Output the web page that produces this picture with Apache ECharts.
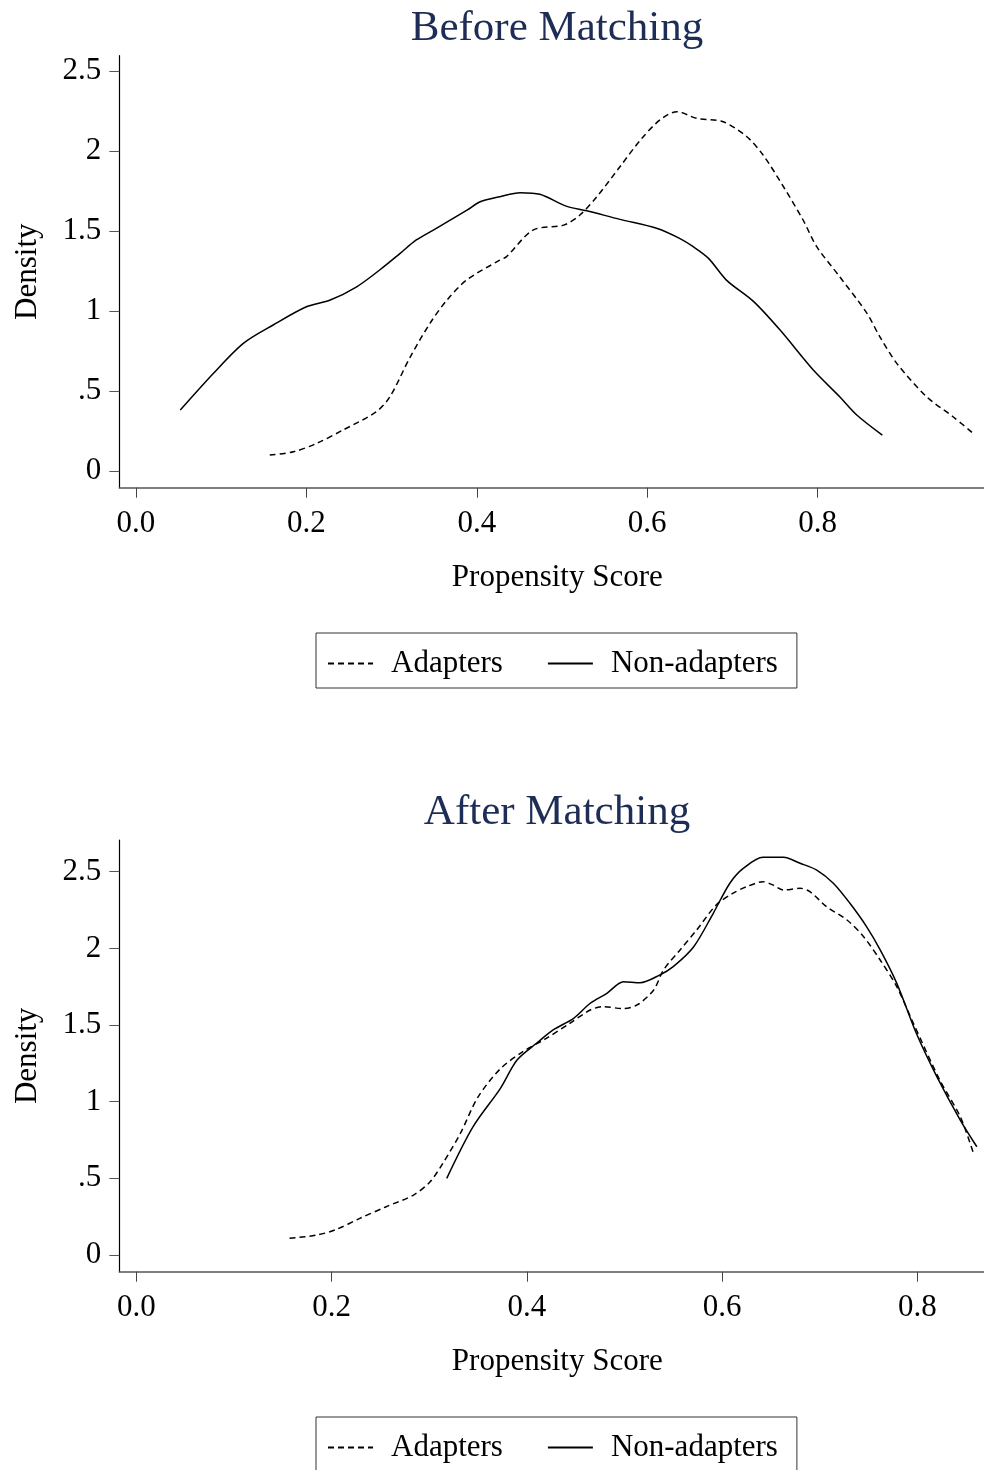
<!DOCTYPE html>
<html>
<head>
<meta charset="utf-8">
<script src="https://cdn.jsdelivr.net/npm/echarts@6/dist/echarts.min.js"></script>
<style>
html,body{margin:0;padding:0;background:#fff;}
#chart{width:984px;height:1470px;}
</style>
</head>
<body>
<div id="chart"></div>
<script>
// ---------- data ----------
const titles = ['Before Matching', 'After Matching'];
const seriesNames = ['Adapters', 'Non-adapters'];
const xTickValues = [0, 0.2, 0.4, 0.6, 0.8];
const xTickLabels = ['0.0', '0.2', '0.4', '0.6', '0.8'];
const yTickValues = [0, 0.5, 1, 1.5, 2, 2.5];
const yTickLabels = ['0', '.5', '1', '1.5', '2', '2.5'];
const xAxisName = 'Propensity Score';
const yAxisName = 'Density';

// Before matching
const beforeAdapters = [
  [0.157,0.098],[0.185,0.119],[0.212,0.171],[0.243,0.255],[0.282,0.369],[0.298,0.463],
  [0.322,0.713],[0.345,0.922],[0.365,1.068],[0.388,1.193],[0.427,1.318],[0.435,1.34],
  [0.466,1.506],[0.502,1.537],[0.521,1.60],[0.541,1.715],[0.568,1.902],[0.592,2.069],
  [0.615,2.195],[0.635,2.247],[0.658,2.205],[0.689,2.184],[0.717,2.09],[0.736,1.976],
  [0.760,1.777],[0.783,1.569],[0.799,1.402],[0.826,1.214],[0.858,0.985],[0.873,0.839],
  [0.893,0.672],[0.928,0.463],[0.959,0.338],[0.984,0.228]
];
const beforeNonAdapters = [
  [0.052,0.38],[0.091,0.61],[0.126,0.797],[0.161,0.912],[0.200,1.026],[0.228,1.068],
  [0.259,1.151],[0.286,1.256],[0.310,1.36],[0.329,1.444],[0.349,1.506],[0.389,1.632],
  [0.404,1.683],[0.427,1.715],[0.451,1.74],[0.474,1.73],[0.505,1.656],[0.529,1.627],
  [0.568,1.573],[0.611,1.517],[0.638,1.454],[0.654,1.402],[0.672,1.329],[0.693,1.193],
  [0.725,1.058],[0.756,0.88],[0.795,0.63],[0.826,0.463],[0.846,0.349],[0.876,0.223]
];
// After matching
const afterAdapters = [
  [0.157,0.109],[0.185,0.13],[0.205,0.167],[0.229,0.239],[0.256,0.315],[0.284,0.391],
  [0.301,0.478],[0.314,0.598],[0.332,0.794],[0.350,1.03],[0.373,1.215],[0.396,1.326],
  [0.420,1.413],[0.444,1.511],[0.465,1.598],[0.478,1.62],[0.499,1.607],[0.513,1.631],
  [0.530,1.729],[0.540,1.859],[0.557,1.99],[0.574,2.12],[0.594,2.283],[0.611,2.359],
  [0.625,2.402],[0.642,2.435],[0.652,2.414],[0.663,2.381],[0.680,2.392],[0.690,2.37],
  [0.707,2.272],[0.728,2.185],[0.745,2.076],[0.762,1.924],[0.779,1.75],[0.796,1.511],
  [0.823,1.141],[0.844,0.902],[0.857,0.674]
];
const afterNonAdapters = [
  [0.318,0.5],[0.345,0.837],[0.373,1.087],[0.390,1.272],[0.410,1.381],[0.427,1.468],
  [0.448,1.544],[0.465,1.642],[0.482,1.707],[0.499,1.783],[0.516,1.776],[0.536,1.826],
  [0.550,1.881],[0.571,2.011],[0.591,2.229],[0.608,2.425],[0.622,2.523],[0.642,2.594],
  [0.663,2.594],[0.680,2.555],[0.697,2.511],[0.714,2.425],[0.731,2.294],[0.748,2.142],
  [0.762,1.99],[0.779,1.772],[0.799,1.446],[0.820,1.163],[0.844,0.88],[0.861,0.706]
];

// ---------- chart ----------
const FONT = '"Liberation Serif", "Times New Roman", serif';
const chart = echarts.init(document.getElementById('chart'), null, {renderer: 'canvas'});

function xAxisCfg(gi, min, max) {
  return {
    type: 'value', gridIndex: gi, min: min, max: max,
    name: xAxisName, nameLocation: 'middle', nameGap: 75,
    nameTextStyle: {fontFamily: FONT, fontSize: 31, color: '#000'},
    axisLine: {show: true, onZero: false, lineStyle: {color: '#555', width: 1.5}},
    axisTick: {show: true, length: 10, customValues: xTickValues, lineStyle: {color: '#444', width: 1}},
    axisLabel: {
      show: true, margin: 21, customValues: xTickValues,
      fontFamily: FONT, fontSize: 31, color: '#000',
      formatter: v => { const i = xTickValues.findIndex(t => Math.abs(t - v) < 1e-6); return i >= 0 ? xTickLabels[i] : ''; }
    },
    splitLine: {show: false}
  };
}
function yAxisCfg(gi, min, max) {
  return {
    type: 'value', gridIndex: gi, min: min, max: max,
    name: yAxisName, nameLocation: 'middle', nameGap: 76, nameRotate: 90,
    nameTextStyle: {fontFamily: FONT, fontSize: 31, color: '#000'},
    axisLine: {show: true, onZero: false, lineStyle: {color: '#000', width: 1.2}},
    axisTick: {show: true, length: 10, customValues: yTickValues, lineStyle: {color: '#555', width: 1}},
    axisLabel: {
      show: true, margin: 18, customValues: yTickValues, padding: [4, 0, 0, 0],
      fontFamily: FONT, fontSize: 31, color: '#000',
      formatter: v => { const i = yTickValues.findIndex(t => Math.abs(t - v) < 1e-6); return i >= 0 ? yTickLabels[i] : ''; }
    },
    splitLine: {show: false}
  };
}
function lineSeries(name, data, gi, dashed) {
  return {
    type: 'line', name: name, xAxisIndex: gi, yAxisIndex: gi,
    data: data, smooth: 0.3, symbol: 'none', showSymbol: false,
    lineStyle: {color: '#000', width: 1.5, type: dashed ? [6, 4] : 'solid'},
    itemStyle: {color: '#000'},
    clip: true, animation: false
  };
}
function legendCfg(top) {
  return {
    data: seriesNames, left: 316, top: top, orient: 'horizontal',
    itemWidth: 45, itemHeight: 14, itemGap: 44,
    padding: [15, 19, 9, 11],
    borderColor: '#333', borderWidth: 1,
    textStyle: {fontFamily: FONT, fontSize: 31, color: '#000', padding: [0, 0, 0, 13]},
    itemStyle: {color: 'transparent', borderColor: 'transparent', borderWidth: 0, opacity: 0},
    selectedMode: false
  };
}

const option = {
  backgroundColor: '#fff',
  animation: false,
  title: [
    {text: titles[0], left: 557, top: 7, textAlign: 'center', padding: 0,
     textStyle: {fontFamily: FONT, fontSize: 43, fontWeight: 'normal', color: '#1e2d56'}},
    {text: titles[1], left: 557, top: 791, textAlign: 'center', padding: 0,
     textStyle: {fontFamily: FONT, fontSize: 43, fontWeight: 'normal', color: '#1e2d56'}}
  ],
  legend: [legendCfg(633), legendCfg(1417)],
  grid: [
    {left: 119.3, top: 55.7, width: 876, height: 432, containLabel: false, outerBoundsMode: 'none'},
    {left: 119.3, top: 840, width: 876, height: 431.7, containLabel: false, outerBoundsMode: 'none'}
  ],
  xAxis: [xAxisCfg(0, -0.0196, 1.0086), xAxisCfg(1, -0.0174, 0.8799)],
  yAxis: [yAxisCfg(0, -0.106, 2.597), yAxisCfg(1, -0.109, 2.707)],
  series: [
    lineSeries(seriesNames[0], beforeAdapters, 0, true),
    lineSeries(seriesNames[1], beforeNonAdapters, 0, false),
    lineSeries(seriesNames[0], afterAdapters, 1, true),
    lineSeries(seriesNames[1], afterNonAdapters, 1, false)
  ]
};
chart.setOption(option);
</script>
</body>
</html>
